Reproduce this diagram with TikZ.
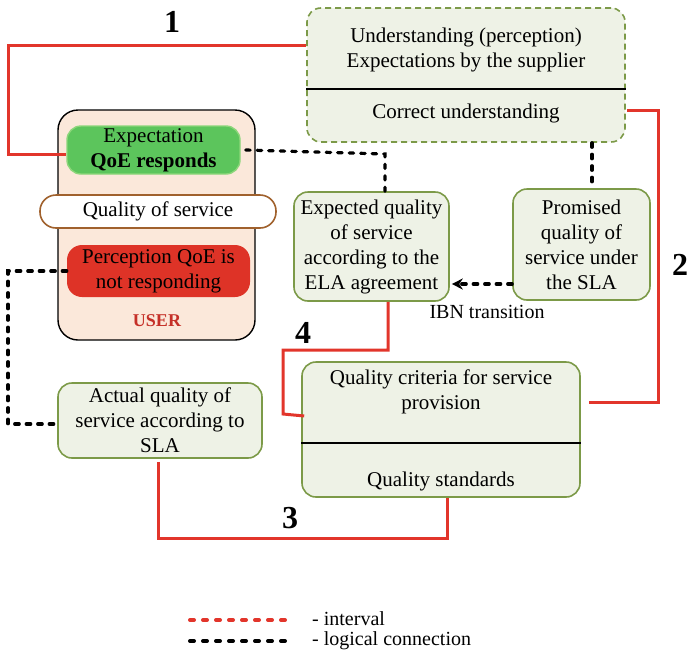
\documentclass[tikz,border=0pt]{standalone}
\usepackage{fontspec}
\setmainfont{Liberation Serif}
\usetikzlibrary{arrows.meta}
\definecolor{panelfill}{HTML}{EEF2E6}
\definecolor{paneledge}{HTML}{7C9A48}
\definecolor{userfill}{HTML}{FBE8DA}
\definecolor{okfill}{HTML}{5CC55C}
\definecolor{okedge}{HTML}{8CD67A}
\definecolor{badfill}{HTML}{DE3327}
\definecolor{intervalred}{HTML}{E2352B}
\definecolor{qosedge}{HTML}{A0612D}
\definecolor{usertext}{HTML}{C53028}
\tikzset{
  box/.style={draw=paneledge, line width=1.6pt, fill=panelfill, rounded corners=14pt,
    inner sep=0pt, align=center, font=\fontsize{21}{25}\selectfont},
  txt/.style={inner sep=0pt, align=center, font=\fontsize{21}{25}\selectfont},
  interval/.style={draw=intervalred, line width=3pt},
  logical/.style={draw=black, line width=3.2pt, line cap=round, dash pattern=on 4.5pt off 7pt},
  num/.style={inner sep=0pt, font=\fontsize{32}{32}\selectfont\bfseries},
}
\begin{document}
\begin{tikzpicture}[x=1pt,y=-1pt]
\useasboundingbox (0,0) rectangle (689,654);

% supplier panel
\node[box, dashed, dash pattern=on 6pt off 4pt, minimum width=318pt, minimum height=134pt] (sup) at (466,75) {};
\draw[line width=1.6pt] (sup.west |- 0,89) -- (sup.east |- 0,89);
\node[txt] (suptop) at (466,50) {Understanding (perception)\\Expectations by the supplier};
\node[txt] (supbot) at (466,113) {Correct understanding};

% user panel
\node[draw=black, line width=1.4pt, fill=userfill, rounded corners=20pt, minimum width=197pt, minimum height=230pt] (user) at (156.5,225) {};
\node[draw=okedge, line width=1.4pt, fill=okfill, rounded corners=14pt, minimum width=173pt, minimum height=48pt,
  txt] (expect) at (153.5,150) {Expectation\\\textbf{QoE responds}};
\node[draw=qosedge, line width=1.6pt, fill=white, rounded corners=16pt, minimum width=236pt, minimum height=33pt,
  txt] (qos) at (158,211.5) {Quality of service};
\node[fill=badfill, rounded corners=15pt, minimum width=183pt, minimum height=52pt,
  txt] (percep) at (158.5,271) {Perception QoE is\\not responding};
\node[inner sep=0pt, text=usertext, font=\fontsize{18}{18}\selectfont\bfseries] (userlbl) at (157,321) {USER};

% service quality boxes
\node[box, minimum width=155pt, minimum height=109pt] (exq) at (371.5,246.5) {Expected quality\\of service\\according to the\\ELA agreement};
\node[box, minimum width=137pt, minimum height=111pt] (prom) at (581.5,244.5) {Promised\\quality of\\service under\\the SLA};
\node[box, minimum width=204pt, minimum height=75pt] (actual) at (160,420.5) {Actual quality of\\service according to\\SLA};
\node[box, minimum width=278pt, minimum height=135pt] (qc) at (441,429.5) {};
\draw[line width=1.6pt] (qc.west |- 0,443) -- (qc.east |- 0,443);
\node[txt] (qctop) at (441,392) {Quality criteria for service\\provision};
\node[txt] (qcbot) at (441,481) {Quality standards};

\node[txt, font=\fontsize{20}{24}\selectfont] (ibn) at (487,312) {IBN transition};

% interval links
\draw[interval] (sup.west |- 0,45) -- (8,45) -- (8,154) -- (expect.west |- 0,154);
\draw[interval] ([xshift=1pt]sup.east |- 0,110) -- (658,110) -- (658,402) -- ([xshift=8pt]qc.east |- 0,402);
\draw[interval] ([yshift=-3pt]actual.south -| 158,0) -- (158,538) -- (447,538) -- (qc.south -| 447,0);
\draw[interval] (exq.south -| 388,0) -- (388,350) -- (283,350) -- (283,414) -- ([xshift=3pt]qc.west |- 0,416);

\node[num] (n1) at (172,22) {1};
\node[num] (n2) at (680,265) {2};
\node[num] (n3) at (290,518) {3};
\node[num] (n4) at (303,333) {4};

% logical links
\draw[logical] ([xshift=5pt]expect.east) -- (385,154) -- (exq.north -| 385,0);
\draw[logical] (sup.south -| 592,0) -- (prom.north -| 592,0);
\draw[logical, -{Stealth[length=11pt,width=11pt]}] (prom.west |- 0,284) -- ([xshift=2pt]exq.east |- 0,284);
\draw[logical] (percep.west) -- (8,271) -- (8,424) -- (actual.west |- 0,424);

% legend
\coordinate (lga) at (190,620);
\coordinate (lgb) at (290,620);
\coordinate (lgc) at (190,641);
\coordinate (lgd) at (290,641);
\draw[draw=intervalred, line width=4pt, line cap=round, dash pattern=on 4pt off 9pt] (lga) -- (lgb);
\draw[draw=black, line width=4pt, line cap=round, dash pattern=on 4pt off 9pt] (lgc) -- (lgd);
\node[txt, anchor=west, font=\fontsize{20}{22}\selectfont] (lg1) at (312,619) {- interval};
\node[txt, anchor=west, font=\fontsize{20}{22}\selectfont] (lg2) at (312,641) {- logical connection};
\end{tikzpicture}
\end{document}
